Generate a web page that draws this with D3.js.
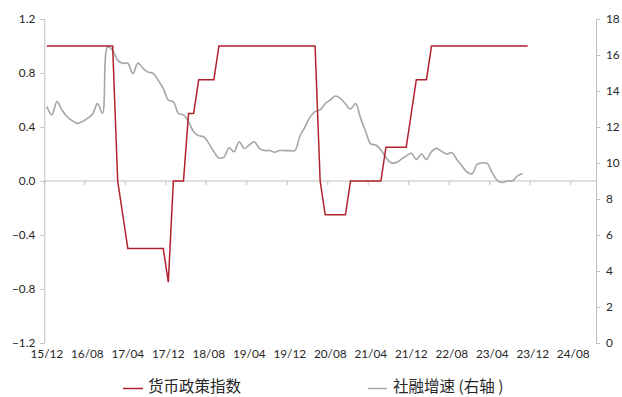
<!DOCTYPE html>
<html><head><meta charset="utf-8">
<script src="https://cdn.jsdelivr.net/npm/d3@7"></script>
<style>body{margin:0;background:#fff}svg{display:block}</style>
</head><body>
<script>
// ---- data ----
const startYear = 2015, startMonth = 12, monthCount = 109;
const months = d3.range(monthCount).map(i => {
  const m = startMonth - 1 + i;
  const y = startYear + Math.floor(m / 12);
  const mm = (m % 12) + 1;
  return String(y).slice(2) + "/" + String(mm).padStart(2, "0");
});
const tickLabels = ["15/12","16/08","17/04","17/12","18/08","19/04","19/12","20/08","21/04","21/12","22/08","23/04","23/12","24/08"];
const leftTicks = [-1.2,-0.8,-0.4,0.0,0.4,0.8,1.2];
const rightTicks = [0,2,4,6,8,10,12,14,16,18];
const policyIndex = [
  1,1,1,1,1,1,1,1,1,1,1,1,1,1,
  0,-0.25,
  -0.5,-0.5,-0.5,-0.5,-0.5,-0.5,-0.5,-0.5,
  -0.75,
  0,0,0,
  0.5,0.5,
  0.75,0.75,0.75,0.75,
  1,1,1,1,1,1,1,1,1,1,1,1,1,1,1,1,1,1,1,1,
  0,
  -0.25,-0.25,-0.25,-0.25,-0.25,
  0,0,0,0,0,0,0,
  0.25,0.25,0.25,0.25,0.25,
  0.5,
  0.75,0.75,0.75,
  1,1,1,1,1,1,1,1,1,1,1,1,1,1,1,1,1,1,1,1
];
const tsfGrowth = [
  13.13,12.67,13.41,12.94,12.57,12.35,12.2,12.3,12.48,12.7,13.3,12.76,
  16.46,16.25,15.7,15.54,15.54,14.96,15.55,15.26,15.05,14.98,14.6,14.15,
  13.5,13.4,12.76,12.67,12.3,11.74,11.52,11.46,11.09,10.63,10.28,10.33,
  10.85,10.63,11.18,10.81,11.0,11.18,10.81,10.69,10.69,10.6,10.69,10.69,
  10.69,10.69,11.5,12.0,12.55,12.85,12.95,13.3,13.5,13.72,13.59,13.28,
  13.0,13.3,12.48,11.74,11.06,11.0,10.72,10.31,10.02,10.02,10.2,10.39,
  10.54,10.2,10.5,10.2,10.63,10.81,10.65,10.5,10.58,10.2,9.85,9.5,
  9.4,9.92,10.0,9.98,9.45,9.04,8.92,9.0,9.01,9.28,9.42
];
const legendLabels = ["货币政策指数", "社融增速 (右轴 )"];

// ---- chart ----
const W = 622, H = 397;
const L = 44.3, R = 596, T = 19, B = 343;
const svg = d3.select("body").append("svg").attr("width", W).attr("height", H);
const x = d3.scaleBand().domain(months).range([L, R]).paddingInner(0).paddingOuter(0);
const yL = d3.scaleLinear().domain([-1.2, 1.2]).range([B, T]);
const yR = d3.scaleLinear().domain([0, 18]).range([B, T]);
const cx = d => x(d) + x.bandwidth() / 2;
const axisColor = "#bfbfbf", textColor = "#262626";
const numFont = "Lato, 'Open Sans', sans-serif";

// left axis
const gL = svg.append("g").attr("transform", `translate(${L},0)`)
  .call(d3.axisLeft(yL).tickValues(leftTicks).tickFormat(d3.format(".1f")).tickSize(4).tickPadding(5));
// right axis
const gR = svg.append("g").attr("transform", `translate(${R},0)`)
  .call(d3.axisRight(yR).tickValues(rightTicks).tickFormat(d3.format("d")).tickSize(4).tickPadding(6));
// x axis at zero line
const xTickPos = d3.range(0, monthCount + 1, 8).map(i => L + i * x.bandwidth());
const gX = svg.append("g");
gX.append("line").attr("x1", L).attr("x2", R).attr("y1", yL(0)).attr("y2", yL(0));
gX.selectAll("line.t").data(xTickPos).join("line").attr("class", "t")
  .attr("x1", d => d).attr("x2", d => d).attr("y1", yL(0)).attr("y2", yL(0) + 4);
gX.selectAll("text").data(tickLabels).join("text")
  .attr("x", d => cx(d)).attr("y", B + 12).attr("text-anchor", "middle")
  .attr("dominant-baseline", "middle").text(d => d);

[gL, gR].forEach(g => { g.select(".domain").attr("stroke", axisColor); });
svg.selectAll("line").attr("stroke", axisColor);
svg.selectAll(".tick line").attr("stroke", axisColor);
svg.selectAll("text").attr("fill", textColor).attr("font-family", numFont).attr("font-size", 11.8);

// lines
const redColor = "#b2202c", grayColor = "#a6a6a6";
const tsfLine = d3.line().x((d, i) => cx(months[i])).y(d => yR(d)).curve(d3.curveCatmullRom.alpha(0.5));
svg.append("path").datum(tsfGrowth).attr("d", tsfLine)
  .attr("fill", "none").attr("stroke", grayColor).attr("stroke-width", 1.6);
const polLine = d3.line().x((d, i) => cx(months[i])).y(d => yL(d));
svg.append("path").datum(policyIndex).attr("d", polLine)
  .attr("fill", "none").attr("stroke", redColor).attr("stroke-width", 1.5).attr("stroke-linejoin", "miter");

// legend
const lg = svg.append("g").attr("font-family", "'Noto Sans CJK SC', sans-serif").attr("font-size", 15.5).attr("fill", "#262626");
const items = [
  {label: legendLabels[0], color: redColor, x1: 123, x2: 143, tx: 148},
  {label: legendLabels[1], color: grayColor, x1: 368, x2: 387, tx: 393}
];
items.forEach(it => {
  lg.append("line").attr("x1", it.x1).attr("x2", it.x2).attr("y1", 388.5).attr("y2", 388.5)
    .attr("stroke", it.color).attr("stroke-width", 1.5);
  lg.append("text").attr("x", it.tx).attr("y", 388).attr("dominant-baseline", "middle").text(it.label);
});
</script>
</body></html>
